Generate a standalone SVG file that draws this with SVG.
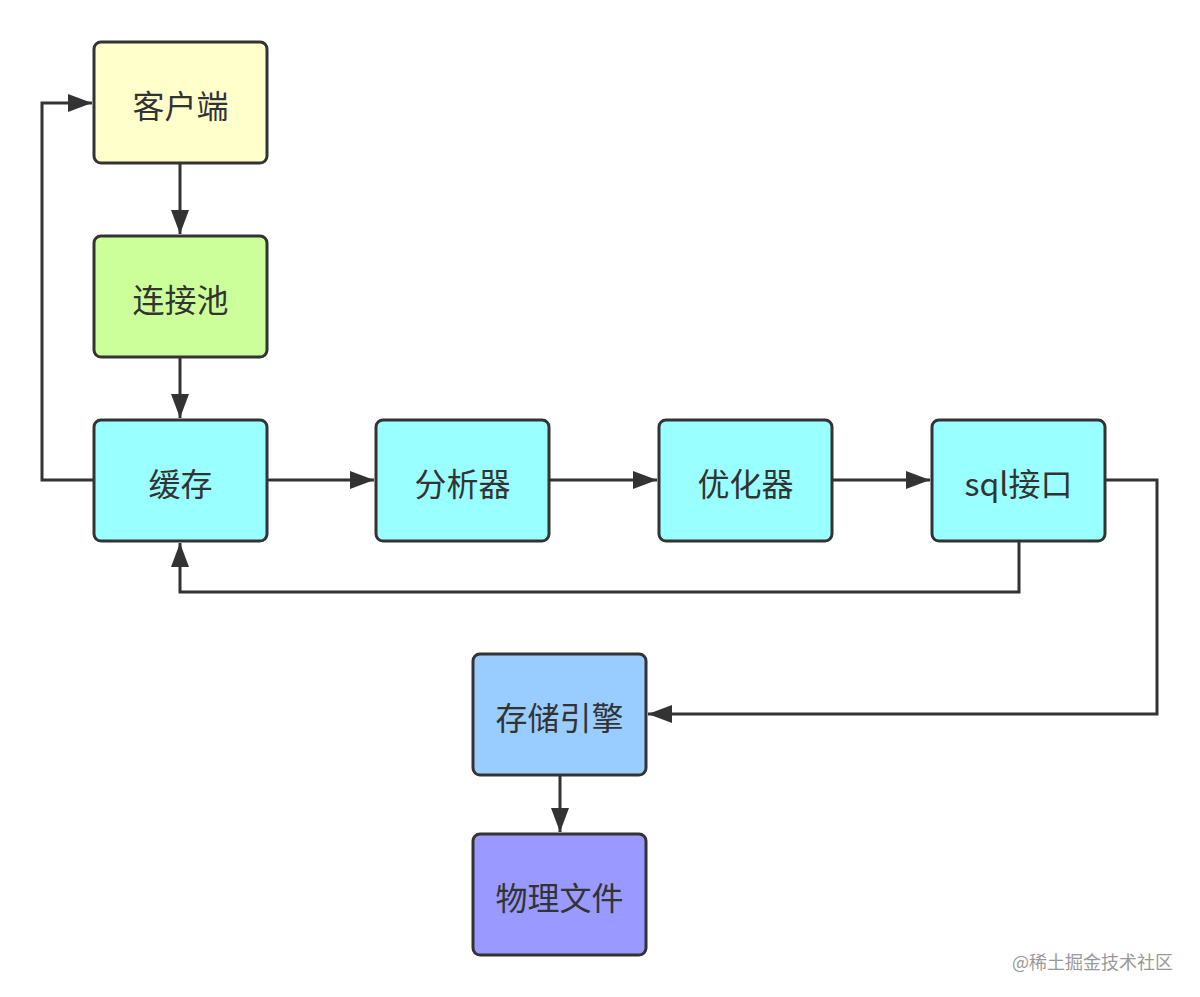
<svg xmlns="http://www.w3.org/2000/svg" width="1200" height="997" viewBox="0 0 1200 997">
<style>
.n rect{stroke:#333;stroke-width:3}
.n text{font-family:"Noto Sans CJK SC","Liberation Sans",sans-serif;font-size:32px;fill:#333;text-anchor:middle;dominant-baseline:central}
.c path{fill:none;stroke:#333;stroke-width:3}
.wm{font-family:"Noto Sans CJK SC",sans-serif;font-size:18px;fill:#999}
</style>
<defs>
<marker id="a" markerUnits="userSpaceOnUse" markerWidth="26" markerHeight="20" refX="24" refY="9" orient="auto">
<path d="M0,0 L24,9 L0,18 z" fill="#333"/>
</marker>
</defs>
<rect width="1200" height="997" fill="#fff"/>
<g class="c">
<path d="M94,480 H42 V103 H92" marker-end="url(#a)"/>
<path d="M180,163 V234" marker-end="url(#a)"/>
<path d="M180,357 V418" marker-end="url(#a)"/>
<path d="M267,480 H374" marker-end="url(#a)"/>
<path d="M549,480 H657" marker-end="url(#a)"/>
<path d="M832,480 H930" marker-end="url(#a)"/>
<path d="M1019,541 V592 H180 V543" marker-end="url(#a)"/>
<path d="M1105,480 H1157 V714 H648" marker-end="url(#a)"/>
<path d="M560,775 V832" marker-end="url(#a)"/>
</g>
<g id="client" class="n"><rect x="94" y="42" width="173" height="121" rx="7" fill="#FFFFCC"/><text x="180.5" y="104">客户端</text></g>
<g id="pool" class="n"><rect x="94" y="236" width="173" height="121" rx="7" fill="#CCFF99"/><text x="180.5" y="298">连接池</text></g>
<g id="cache" class="n"><rect x="94" y="420" width="173" height="121" rx="7" fill="#99FFFF"/><text x="180.5" y="482">缓存</text></g>
<g id="parser" class="n"><rect x="376" y="420" width="173" height="121" rx="7" fill="#99FFFF"/><text x="462.5" y="482">分析器</text></g>
<g id="optimizer" class="n"><rect x="659" y="420" width="173" height="121" rx="7" fill="#99FFFF"/><text x="745.5" y="482">优化器</text></g>
<g id="sql" class="n"><rect x="932" y="420" width="173" height="121" rx="7" fill="#99FFFF"/><text x="1018.5" y="482">sql接口</text></g>
<g id="engine" class="n"><rect x="473" y="654" width="173" height="121" rx="7" fill="#99CCFF"/><text x="559.5" y="716">存储引擎</text></g>
<g id="files" class="n"><rect x="473" y="834" width="173" height="121" rx="7" fill="#9999FF"/><text x="559.5" y="896">物理文件</text></g>
<text class="wm" x="1012" y="969">@稀土掘金技术社区</text>
</svg>
